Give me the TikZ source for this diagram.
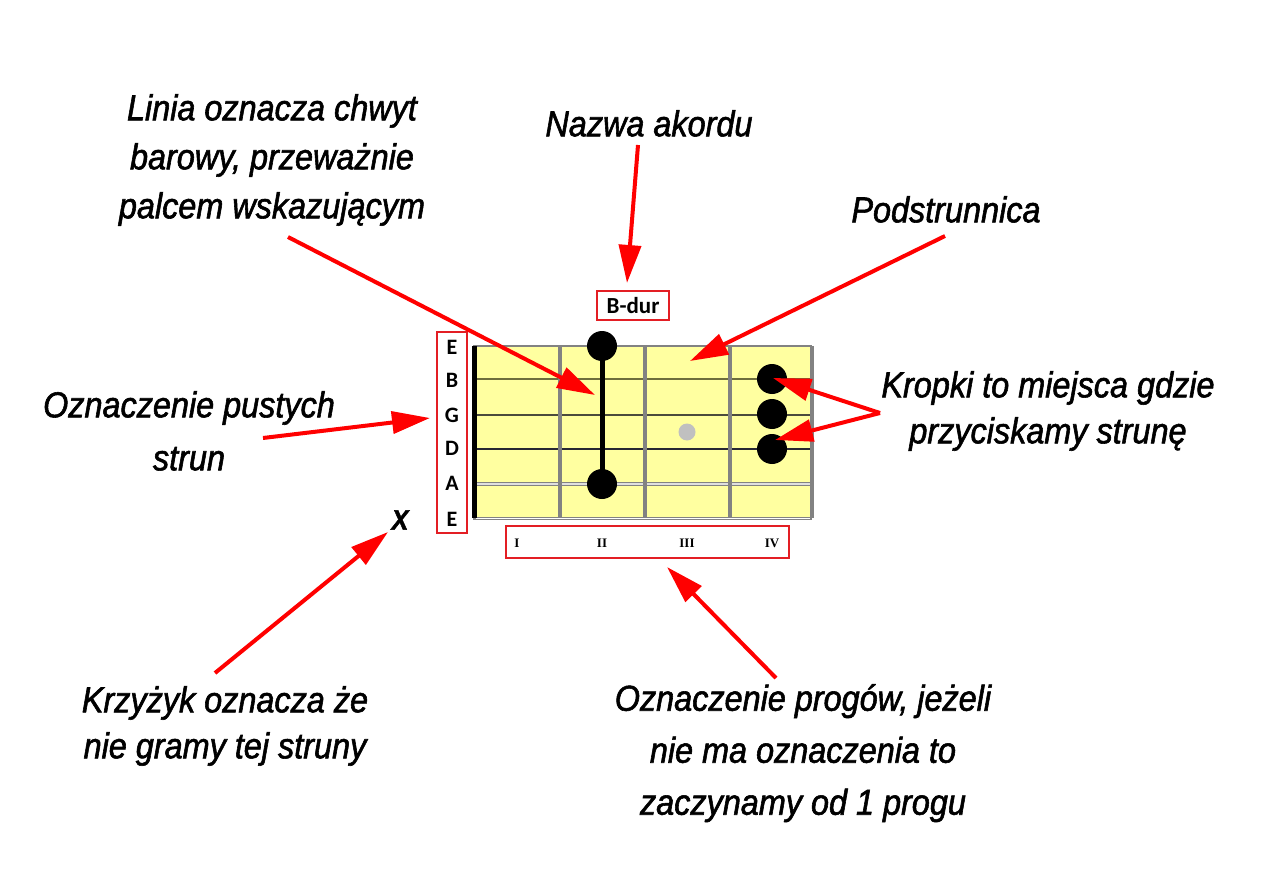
\documentclass[tikz,border=0pt]{standalone}
\usepackage{fontspec}
\usetikzlibrary{arrows.meta}
\newfontfamily\annotfont[FakeStretch=0.9,FakeBold=1.6]{Liberation Sans}
\newfontfamily\labfont{Carlito}
\newfontfamily\fretfont{Liberation Serif}
\definecolor{boxred}{RGB}{227,30,36}
\definecolor{arrred}{RGB}{255,0,0}
\definecolor{fbfill}{RGB}{255,255,160}
\definecolor{strA}{RGB}{110,110,60}
\definecolor{strB}{RGB}{75,75,60}
\definecolor{strC}{RGB}{40,40,50}
\definecolor{fretgray}{RGB}{130,130,130}
\definecolor{dotgray}{RGB}{192,192,192}
\tikzset{
  annot/.style={inner sep=0pt, anchor=north, align=center, font=\annotfont\itshape\fontsize{36}{#1}\selectfont},
  annot/.default=49,
  pointer/.style={draw=arrred, line width=4pt, -{Triangle[length=38pt,width=22pt]}},
  redbox/.style={draw=boxred, line width=2.5pt, inner sep=0pt},
  stringlab/.style={inner sep=0pt, font=\labfont\bfseries\fontsize{22}{22}\selectfont},
  chordlab/.style={inner sep=0pt, font=\labfont\bfseries\fontsize{23}{23}\selectfont},
  fretlab/.style={inner sep=0pt, font=\fretfont\bfseries\fontsize{13}{13}\selectfont},
  fingerdot/.style={circle, fill=black, inner sep=0pt, minimum size=30pt},
}
\begin{document}
\begin{tikzpicture}[x=1pt,y=-1pt]
\useasboundingbox (0,0) rectangle (1267,888);
\fill[white] (0,0) rectangle (1267,888);

% fretboard
\fill[fbfill] (473,346) rectangle (812,518);
\draw[strA, line width=2pt] (473,379) -- (812,379);
\draw[strB, line width=2pt] (473,415) -- (812,415);
\draw[strC, line width=2pt] (473,449) -- (812,449);
\draw[fretgray, line width=3.5pt] (473,484) -- (812,484);
\draw[gray!25, line width=1.2pt] (473,484) -- (812,484);
\foreach \fx in {560,645,730,812}
  \draw[fretgray, line width=3.5pt] (\fx,346) -- (\fx,518);
\draw[fretgray, line width=2.5pt] (473,346) -- (812,346);
\draw[fretgray, line width=3pt] (473,518) -- (812,518);
\draw[white, line width=1pt] (476,518) -- (810,518);
\draw[black, line width=4.5pt] (474.5,346) -- (474.5,518);

% grey marker
\node[circle, fill=dotgray, inner sep=0pt, minimum size=17pt] (marker) at (687,432) {};

% finger dots and barre
\node[fingerdot] (d1) at (602,346) {};
\node[fingerdot] (d2) at (602,484) {};
\draw[black, line width=5pt] (d1.center) -- (d2.center);
\node[fingerdot] (d3) at (772,379) {};
\node[fingerdot] (d4) at (772,414) {};
\node[fingerdot] (d5) at (772,449) {};

% chord name
\node[redbox, minimum width=72pt, minimum height=29pt] (chordbox) at (633,305.5) {};
\node[chordlab] (chord) at (633,306) {B-dur};

% string names
\node[redbox, minimum width=30pt, minimum height=201pt] (strbox) at (452,432.5) {};
\node[stringlab] (sE1) at (452,347) {E};
\node[stringlab] (sB) at (452,380) {B};
\node[stringlab] (sG) at (452,415) {G};
\node[stringlab] (sD) at (452,448) {D};
\node[stringlab] (sA) at (452,483) {A};
\node[stringlab] (sE2) at (452,519) {E};

% fret names
\node[redbox, minimum width=283pt, minimum height=32pt] (fretbox) at (647.5,542) {};
\node[fretlab] (f1) at (517,543) {I};
\node[fretlab] (f2) at (602,543) {II};
\node[fretlab] (f3) at (687,543) {III};
\node[fretlab] (f4) at (772,543) {IV};

% muted mark
\node[inner sep=0pt, font=\annotfont\bfseries\itshape\fontsize{28}{28}\selectfont] (mute) at (400,520) {X};

% annotation texts
\node[annot=49] (tLinia) at (272,94) {Linia oznacza chwyt\\barowy, przeważnie\\palcem wskazującym};
\node[annot] (tNazwa) at (649,110) {Nazwa akordu};
\node[annot] (tPodstr) at (946,196) {Podstrunnica};
\node[annot=46] (tKropki) at (1048,371) {Kropki to miejsca gdzie\\przyciskamy strunę};
\node[annot=53] (tPuste) at (189,391) {Oznaczenie pustych\\strun};
\node[annot=46] (tKrzyz) at (225,686) {Krzyżyk oznacza że\\nie gramy tej struny};
\node[annot=52] (tProgi) at (803,684) {Oznaczenie progów, jeżeli\\nie ma oznaczenia to\\zaczynamy od 1 progu};

% arrow anchors
\coordinate (aLinia) at (288,237);
\coordinate (bLinia) at (595,395);
\coordinate (aNazwa) at (638,145);
\coordinate (bNazwa) at (627,283);
\coordinate (aPodstr) at (945,236);
\coordinate (bPodstr) at (690,361);
\coordinate (aKropki) at (880,413);
\coordinate (bKropki1) at (773,378);
\coordinate (bKropki2) at (775,440);
\coordinate (aPuste) at (263,438);
\coordinate (bPuste) at (430,418);
\coordinate (aKrzyz) at (215,673);
\coordinate (bKrzyz) at (388,532);
\coordinate (aProgi) at (776,678);
\coordinate (bProgi) at (667,567);

\draw[pointer] (aLinia) -- (bLinia);
\draw[pointer] (aNazwa) -- (bNazwa);
\draw[pointer] (aPodstr) -- (bPodstr);
\draw[pointer] (aKropki) -- (bKropki1);
\draw[pointer] (aKropki) -- (bKropki2);
\draw[pointer] (aPuste) -- (bPuste);
\draw[pointer] (aKrzyz) -- (bKrzyz);
\draw[pointer] (aProgi) -- (bProgi);
\end{tikzpicture}
\end{document}
